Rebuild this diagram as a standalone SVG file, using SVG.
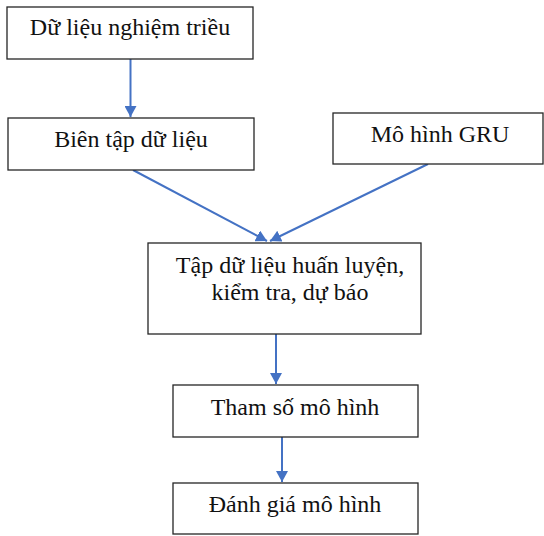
<svg xmlns="http://www.w3.org/2000/svg" width="544" height="536" viewBox="0 0 544 536">
<defs>
<marker id="ah" markerWidth="12" markerHeight="12" refX="11" refY="6" orient="auto" markerUnits="userSpaceOnUse">
<path d="M0,0 L11,6 L0,12 Z" fill="#4472C4"/>
</marker>
<style>
.box{fill:#fff;stroke:#262626;stroke-width:1.3}
.t{font-family:"Liberation Serif","Times New Roman",serif;font-size:24px;fill:#111;text-anchor:middle}
.c{stroke:#4472C4;stroke-width:2;fill:none;marker-end:url(#ah)}
</style>
</defs>
<rect width="544" height="536" fill="#fff"/>
<g id="connectors">
<line class="c" x1="130.5" y1="59" x2="130.5" y2="117"/>
<line class="c" x1="133" y1="170" x2="267" y2="241"/>
<line class="c" x1="428" y1="164" x2="270" y2="241"/>
<line class="c" x1="276" y1="334" x2="276" y2="384"/>
<line class="c" x1="282" y1="437" x2="282" y2="482"/>
</g>
<g id="n1"><rect class="box" x="7" y="7" width="246" height="52"/><text class="t" x="130" y="35">Dữ liệu nghiệm triều</text></g>
<g id="n2"><rect class="box" x="8" y="118" width="246" height="52"/><text class="t" x="131" y="147">Biên tập dữ liệu</text></g>
<g id="n3"><rect class="box" x="333" y="113" width="210" height="51"/><text class="t" x="440" y="142">Mô hình GRU</text></g>
<g id="n4"><rect class="box" x="148" y="243" width="273" height="91"/><text class="t" x="290" y="273">Tập dữ liệu huấn luyện,</text><text class="t" x="290" y="300">kiểm tra, dự báo</text></g>
<g id="n5"><rect class="box" x="173" y="385" width="245" height="52"/><text class="t" x="295" y="415">Tham số mô hình</text></g>
<g id="n6"><rect class="box" x="173" y="483" width="245" height="51"/><text class="t" x="295" y="512">Đánh giá mô hình</text></g>
</svg>
